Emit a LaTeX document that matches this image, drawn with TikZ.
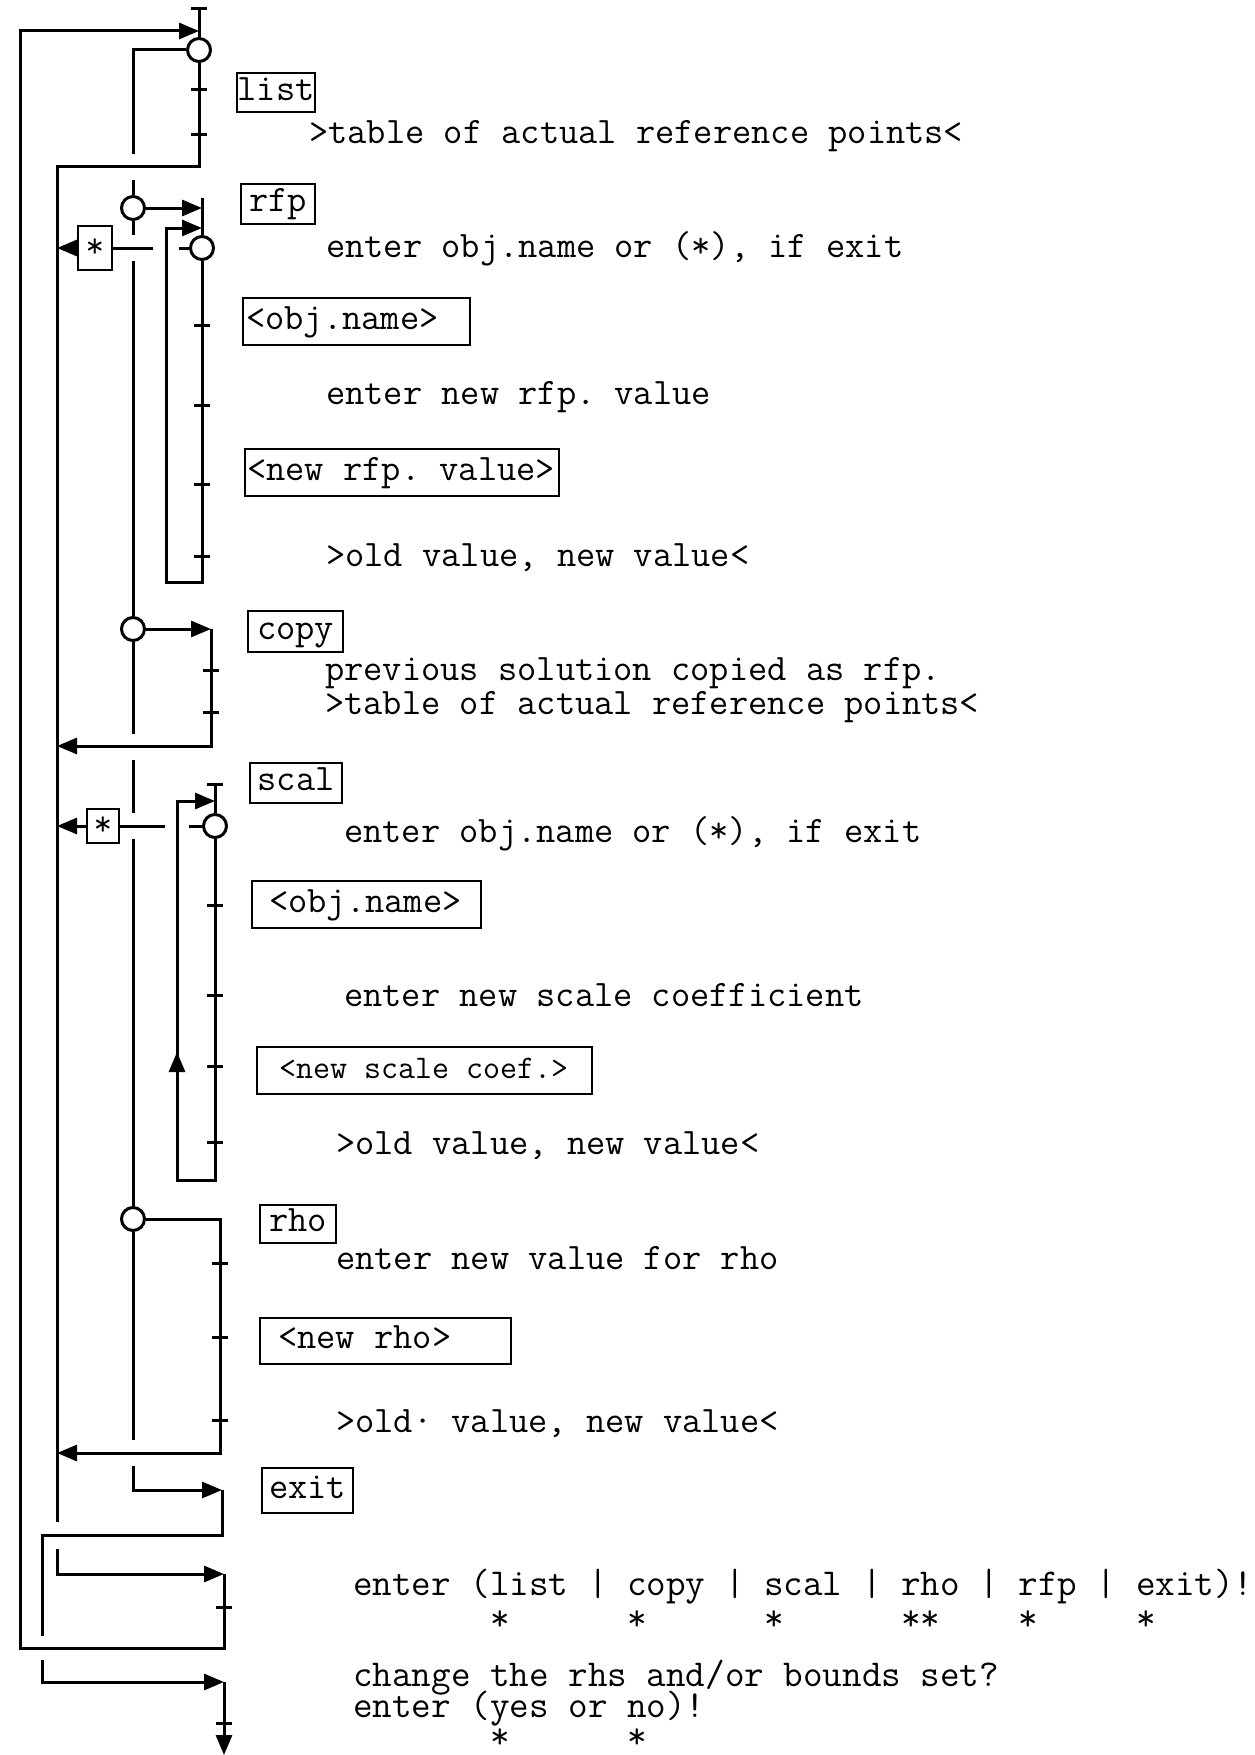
\documentclass[tikz,border=0pt]{standalone}
\usepackage{fontspec}
\usetikzlibrary{arrows.meta}

\newcommand{\typedsize}[1]{\ttfamily\frenchspacing\fontsize{#1}{#1}\selectfont}
\newcommand{\fieldtext}[2]{\makebox[#1][l]{#2}}

\tikzset{
  flow/.style={line width=3pt},
  arr/.style={flow, -{Triangle[length=20pt,width=16pt]}},
  junction/.style={circle, draw, line width=3pt, minimum size=23pt, inner sep=0pt},
  keyword/.style={draw, line width=2.4pt, anchor=north west, inner sep=0pt,
    text height=23pt, text depth=8pt, font={\typedsize{37.35}}},
  field/.style={keyword, inner ysep=0pt},
  starbox/.style={draw, line width=2.4pt, inner sep=0pt, font={\typedsize{36}}},
  prompt/.style={anchor=base west, inner sep=0pt, font={\typedsize{37.35}}},
  menuline/.style={prompt, font={\typedsize{38}}},
}

\begin{document}
\begin{tikzpicture}[x=1pt,y=-1pt]
  \fill[white] (0,0) rectangle (1254,1755);
  \useasboundingbox (0,0) rectangle (1254,1755);

  % keyword boxes and input fields
  \node[keyword, minimum width=78pt, minimum height=39pt] (list) at (236,72) {list};
  \node[keyword, minimum width=74pt, minimum height=40pt] (rfp) at (240,183) {rfp};
  \node[field, inner xsep=3pt, minimum height=47pt] (objA) at (242,297) {\fieldtext{221pt}{<obj.name>}};
  \node[field, inner xsep=2pt, minimum height=47pt] (newrfp) at (244,448) {\fieldtext{310pt}{<new rfp. value>}};
  \node[keyword, minimum width=95pt, minimum height=41pt] (copy) at (247,610) {copy};
  \node[keyword, minimum width=92pt, minimum height=40pt] (scal) at (249,762) {scal};
  \node[field, inner xsep=17pt, minimum height=47pt] (objB) at (251,880) {\fieldtext{195pt}{<obj.name>}};
  \node[field, inner xsep=22pt, minimum height=47pt, font={\typedsize{33}}] (newscal) at (256,1046) {\fieldtext{291pt}{<new scale coef.>}};
  \node[keyword, minimum width=76pt, minimum height=38pt] (rho) at (259,1204) {rho};
  \node[field, inner xsep=18pt, minimum height=46pt] (newrho) at (259,1317) {\fieldtext{215pt}{<new rho>}};
  \node[keyword, minimum width=91pt, minimum height=45pt] (exit) at (261,1467) {exit};

  % system answers and prompts
  \node[prompt] (tabA) at (309,144) {>table of actual reference points<};
  \node[prompt] (askA) at (326,257) {enter obj.name or (*), if exit};
  \node[prompt] (askrfp) at (326,404) {enter new rfp. value};
  \node[prompt] (oldA) at (326,566) {>old value, new value<};
  \node[prompt] (prev) at (325,680) {previous solution copied as rfp.};
  \node[prompt] (tabB) at (325,714) {>table of actual reference points<};
  \node[prompt] (askB) at (344,842) {enter obj.name or (*), if exit};
  \node[prompt] (askscal) at (344,1006) {enter new scale coefficient};
  \node[prompt] (oldB) at (336,1154) {>old value, new value<};
  \node[prompt] (askrho) at (336,1269) {enter new value for rho};
  \node[prompt] (oldC) at (336,1432) {>old· value, new value<};
  \node[menuline] (menu) at (353,1595) {enter (list | copy | scal | rho | rfp | exit)!};
  \node[menuline] (menukeys) at (353,1630) {~~~~~~~*~~~~~~*~~~~~~*~~~~~~**~~~~*~~~~~*};
  \node[menuline] (rhs) at (353,1686) {change the rhs and/or bounds set?};
  \node[menuline] (yesno) at (353,1717) {enter (yes or no)!};
  \node[menuline] (yesnokeys) at (353,1748) {~~~~~~~*~~~~~~*};

  % branch points and exit marks
  \node[junction] (jlist) at (199,50) {};
  \node[junction] (jrfp) at (133,208) {};
  \node[junction] (jobjA) at (202,248) {};
  \node[junction] (jcopy) at (133,629) {};
  \node[junction] (jobjB) at (215,826) {};
  \node[junction] (jrho) at (133,1219) {};
  \node[starbox, minimum width=34pt, minimum height=44pt] (starA) at (95,248) {*};
  \node[starbox, minimum width=32pt, minimum height=34pt] (starB) at (103,826) {*};

  % list
  \draw[flow] (199,9) -- (jlist.north);
  \draw[flow] (jlist.south) -- (199,167) -- (57,167) -- (57,1522);
  \draw[flow] (jlist.west) -- (133,50) -- (133,154);
  \draw[flow] (133,180) -- (jrfp.north);

  % rfp
  \draw[arr] (jrfp.east) -- (202,208);
  \draw[flow] (202,198) -- (jobjA.north);
  \draw[arr] (jobjA.south) -- (202,582) -- (166,582) -- (166,228) -- (202,228);
  \draw[flow] (jobjA.west) -- (179,248);
  \draw[flow] (153,248) -- (starA.east);
  \draw[arr] (starA.west) -- (57,248);
  \draw[flow] (jrfp.south) -- (133,235);
  \draw[flow] (133,261) -- (jcopy.north);

  % copy
  \draw[arr] (jcopy.east) -- (211,629);
  \draw[arr] (211,629) -- (211,746) -- (57,746);
  \draw[flow] (jcopy.south) -- (133,734);
  \draw[flow] (133,760) -- (133,813);
  \draw[flow] (133,839) -- (jrho.north);

  % scal
  \draw[flow] (215,784) -- (jobjB.north);
  \draw[arr] (jobjB.south) -- (215,1180) -- (177,1180) -- (177,1052);
  \draw[arr] (177,1060) -- (177,801) -- (215,801);
  \draw[flow] (jobjB.west) -- (189,826);
  \draw[flow] (165,826) -- (starB.east);
  \draw[arr] (starB.west) -- (57,826);

  % rho
  \draw[arr] (jrho.east) -- (220,1219) -- (220,1453) -- (57,1453);
  \draw[flow] (jrho.south) -- (133,1440);

  % exit
  \draw[arr] (133,1466) -- (133,1490) -- (222,1490);
  \draw[flow] (222,1490) -- (222,1535) -- (42,1535) -- (42,1636);
  \draw[arr] (42,1660) -- (42,1682) -- (224,1682);
  \draw[arr] (224,1682) -- (224,1755);

  % menu and loop back to the top
  \draw[arr] (57,1549) -- (57,1574) -- (224,1574);
  \draw[arr] (224,1574) -- (224,1648) -- (20,1648) -- (20,31) -- (199,31);

  % ticks on the spines
  \foreach \x/\y in {199/9, 199/90, 199/135, 202/325, 202/405, 202/484, 202/556,
                     211/670, 211/712, 215/784, 215/905, 215/995, 215/1066, 215/1142,
                     220/1263, 220/1337, 220/1420, 224/1607, 224/1723}
    \draw[flow] ({\x-8},\y) -- ({\x+8},\y);
\end{tikzpicture}
\end{document}
